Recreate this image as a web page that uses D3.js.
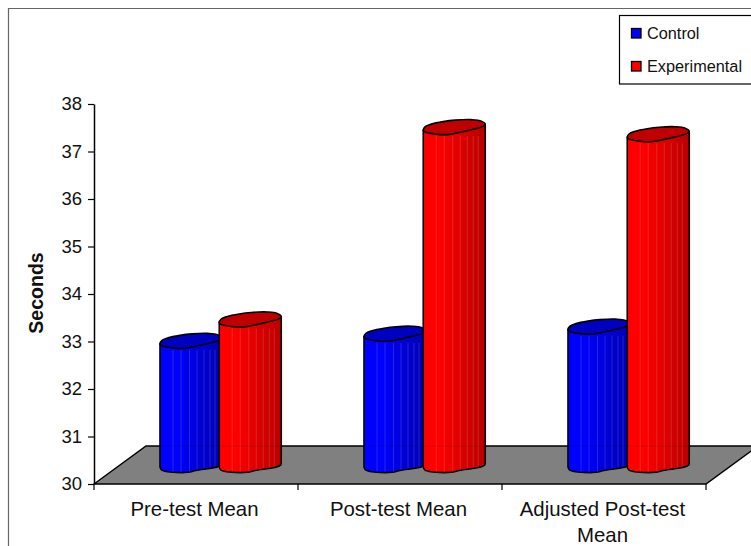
<!DOCTYPE html>
<html><head><meta charset="utf-8">
<script src="https://cdn.jsdelivr.net/npm/d3@7"></script>
<style>html,body{margin:0;padding:0;background:#fff}svg{display:block;font-family:"Liberation Sans",Arial,sans-serif}</style>
</head><body><div id="c"></div>
<script>
const categories=["Pre-test Mean","Post-test Mean","Adjusted Post-test Mean"];
const seriesNames=["Control","Experimental"];
const control=[32.95,33.1,33.25];
const experimental=[33.4,37.45,37.3];
const tickValues=[30,31,32,33,34,35,36,37,38];
const seriesColors=["#0000ff","#ff0000"];
const topColors=["#0000c0","#c00000"];
const darkColors=["#0000b0","#b80000"];
const W=751,H=546;
const svg=d3.select("#c").append("svg").attr("width",W).attr("height",H);
const y=d3.scaleLinear().domain([30,38]).range([484,104]);
const x=d3.scaleBand().domain(categories).range([94,706]);
const xs=d3.scaleBand().domain(seriesNames).range([66,184.5]);
// frame
svg.append("path").attr("d","M8.5,546V8.5H751").attr("fill","none").attr("stroke","#666").attr("stroke-width",1.2);
// floor
const depthX=52,depthY=38;
svg.append("path").attr("d",`M94,484L${94+depthX},${484-depthY}H${706+depthX}L706,484Z`).attr("fill","#808080").attr("stroke","#000").attr("stroke-width",1.5);
// gradients
const defs=svg.append("defs");
seriesNames.forEach((s,i)=>{
  const g=defs.append("linearGradient").attr("id","g"+i);
  g.append("stop").attr("offset","0").attr("stop-color",seriesColors[i]);
  g.append("stop").attr("offset","0.25").attr("stop-color",seriesColors[i]);
  g.append("stop").attr("offset","1").attr("stop-color",darkColors[i]);
});
const line=d3.line().curve(d3.curveCatmullRom.alpha(.6));
function drawBar(cat,si,v){
  const x0=x(cat)+xs(seriesNames[si]);
  const t=y(v), b=y(30)-16;
  const g=svg.append("g");
  const px=o=>o.map(p=>[x0+p[0],p[1]]);
  const bottom=px([[0,b-1],[1.5,b+2],[6,b+3.5],[16,b+4.5],[28,b+4.3],[36,b+2.5],[61.5,b-3],[62,b-6]]);
  const d="M"+x0+","+t+"L"+x0+","+(b-1)+line(bottom).replace(/^M[^C]*/,"")+"L"+(x0+62)+","+(t-5)+"Z";
  g.append("path").attr("d",d).attr("fill",`url(#g${si})`);
  // facets
  g.selectAll("line.f").data([13,21,29.5,37,44,50,55]).join("line")
    .attr("x1",o=>x0+o).attr("x2",o=>x0+o).attr("y1",o=>t+6).attr("y2",o=>b+(o<36?4:2.5-(o-36)*.2))
    .attr("stroke","#fff").attr("stroke-opacity",.14).attr("stroke-width",1);
  // faint back floor line seen through the bar
  g.append("line").attr("x1",x0).attr("x2",x0+62).attr("y1",446).attr("y2",446).attr("stroke","#000").attr("stroke-opacity",.12);
  g.append("path").attr("d",d).attr("fill","none").attr("stroke","#000").attr("stroke-width",1.6);
  const topPts=px([[0,t],[2,t-3.5],[8,t-6],[20,t-8.5],[32,t-10],[48,t-10.5],[58,t-9],[62,t-6],[61,t-4.5],[40,t+1.5],[28,t+4],[18,t+4.5],[6,t+3],[1,t+1.5]]);
  g.append("path").attr("d",d3.line().curve(d3.curveCatmullRomClosed.alpha(.6))(topPts)).attr("fill",topColors[si]).attr("stroke","#000").attr("stroke-width",1.6);
}
categories.forEach((c,i)=>{drawBar(c,0,control[i]);drawBar(c,1,experimental[i]);});
// axes
const ay=d3.axisLeft(y).tickValues(tickValues).tickSize(6).tickSizeOuter(0).tickPadding(6);
const gy=svg.append("g").attr("transform","translate(94,0)").call(ay);
gy.select(".domain").attr("stroke","#000").attr("stroke-width",1.5);
gy.selectAll("line").attr("stroke","#000").attr("stroke-width",1.2);
gy.selectAll("text").attr("font-size",18.5).attr("font-family","Liberation Sans").attr("fill","#111");
svg.append("text").attr("transform","translate(43,293) rotate(-90)").attr("text-anchor","middle").attr("font-weight","bold").attr("font-size",19.5).attr("fill","#111").text("Seconds");
// x ticks
const xEdges=categories.map(c=>x(c)).concat([706]);
svg.selectAll("line.xt").data(xEdges).join("line").attr("x1",d=>d).attr("x2",d=>d).attr("y1",484).attr("y2",490).attr("stroke","#000").attr("stroke-width",1.2);
const catLines=[["Pre-test Mean"],["Post-test Mean"],["Adjusted Post-test","Mean"]];
categories.forEach((c,i)=>{
  catLines[i].forEach((t,j)=>{
    svg.append("text").attr("x",x(c)+x.bandwidth()/2-1.5).attr("y",516+j*26).attr("text-anchor","middle").attr("font-size",20.4).attr("fill","#111").text(t);
  });
});
// legend
svg.append("rect").attr("x",619.5).attr("y",15.5).attr("width",140).attr("height",68.5).attr("fill","#fff").attr("stroke","#000").attr("stroke-width",1.2);
seriesNames.forEach((s,i)=>{
  svg.append("rect").attr("x",631.5).attr("y",28.5+i*33).attr("width",9.5).attr("height",9.5).attr("fill",seriesColors[i]).attr("stroke","#000").attr("stroke-width",1.3);
  svg.append("text").attr("x",647).attr("y",39+i*33).attr("font-size",16.3).attr("fill","#111").text(s);
});
</script></body></html>
